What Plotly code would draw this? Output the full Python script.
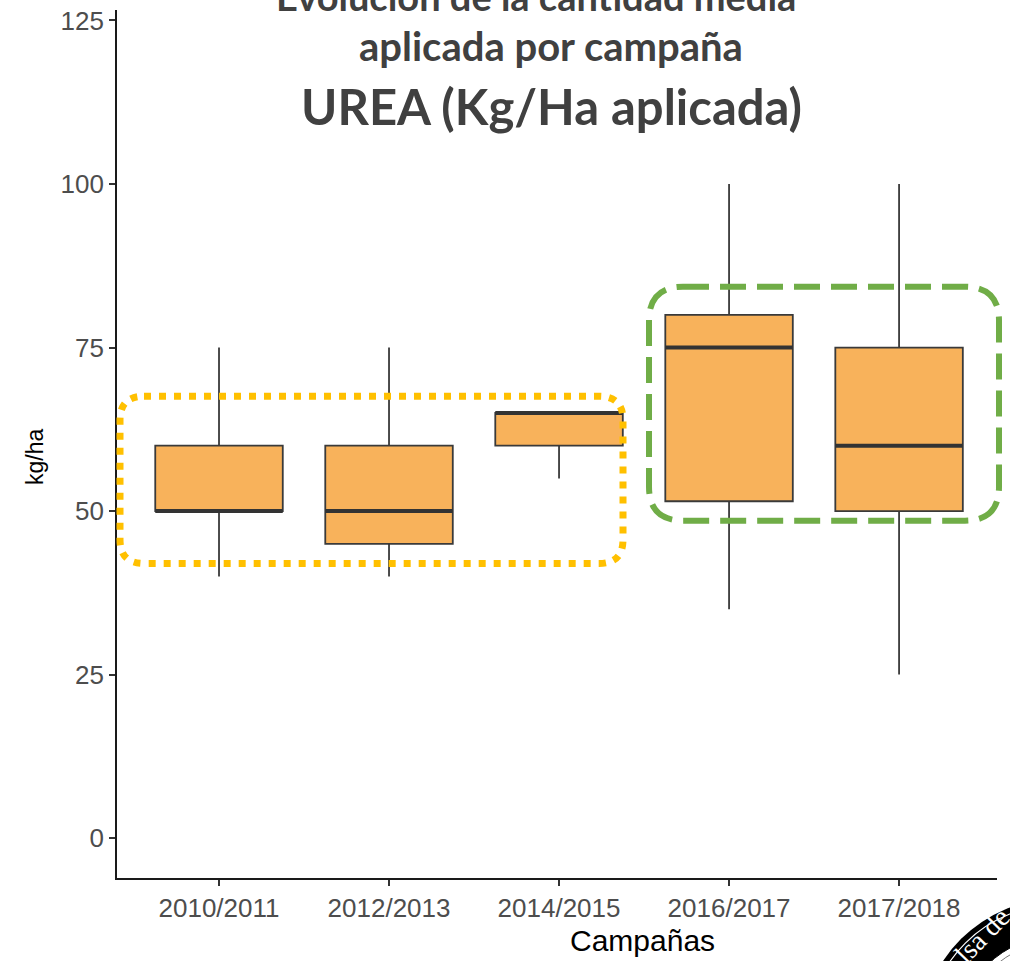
import plotly.graph_objects as go

# data (kg/ha per campaign)
campanas = ['2010/2011', '2012/2013', '2014/2015', '2016/2017', '2017/2018']
minimo = [40, 40, 55, 35, 25]
q1 = [50, 45, 60, 51.5, 50]
mediana = [50, 50, 65, 75, 60]
q3 = [60, 60, 65, 80, 75]
maximo = [75, 75, 65, 100, 100]
y_ticks = [0, 25, 50, 75, 100, 125]

W_FIG, H_FIG = 1010, 961
L, R, T, B = 117, 997, 6, 878  # plot area in pixels


def px(x):
    return (x - L) / (R - L)


def py(y):
    return (B - y) / (B - T)


def rounded_rect(x0, y0, x1, y1, r):
    # x/y in pixels, returns a path in paper coords
    pts = [
        ('M', px(x0 + r), py(y0)),
        ('L', px(x1 - r), py(y0)),
        ('Q', px(x1), py(y0), px(x1), py(y0 + r)),
        ('L', px(x1), py(y1 - r)),
        ('Q', px(x1), py(y1), px(x1 - r), py(y1)),
        ('L', px(x0 + r), py(y1)),
        ('Q', px(x0), py(y1), px(x0), py(y1 - r)),
        ('L', px(x0), py(y0 + r)),
        ('Q', px(x0), py(y0), px(x0 + r), py(y0)),
    ]
    s = ''
    for p in pts:
        s += p[0] + ' ' + ' '.join('%.5f' % v for v in p[1:]) + ' '
    return s + 'Z'


pos = list(range(len(campanas)))
box_w = 0.75

fig = go.Figure()
fig.add_trace(go.Box(
    x=pos, q1=q1, median=mediana, q3=q3,
    lowerfence=minimo, upperfence=maximo,
    width=box_w, whiskerwidth=0,
    fillcolor='#F8B25B', line=dict(color='#3a3a3a', width=1.8),
    boxpoints=False, hoverinfo='skip', showlegend=False,
))

# thicker median line, like ggplot
mx, my = [], []
for p, m in zip(pos, mediana):
    mx += [p - box_w / 2, p + box_w / 2, None]
    my += [m, m, None]
fig.add_trace(go.Scatter(x=mx, y=my, mode='lines',
                         line=dict(color='#333333', width=4),
                         hoverinfo='skip', showlegend=False))

tick_font = dict(family='Liberation Sans, Arial', size=26, color='#4D4D4D')

fig.update_xaxes(
    range=[-0.6, 4.576], tickvals=pos, ticktext=campanas,
    showline=True, linecolor='#1a1a1a', linewidth=1.6,
    ticks='outside', ticklen=6, tickwidth=1.5, tickcolor='#333333',
    tickfont=tick_font, showgrid=False, zeroline=False, fixedrange=True,
)
fig.update_yaxes(
    range=[-6.09, 126.6], tickvals=y_ticks,
    showline=True, linecolor='#1a1a1a', linewidth=1.6,
    ticks='outside', ticklen=6, tickwidth=1.5, tickcolor='#333333',
    tickfont=tick_font, showgrid=False, zeroline=False, fixedrange=True,
)

shapes = [
    dict(type='path', xref='paper', yref='paper',
         path=rounded_rect(120, 394, 623, 562, 24),
         line=dict(color='#FFC000', width=7, dash='7px,8px')),
    dict(type='path', xref='paper', yref='paper',
         path=rounded_rect(649, 284, 999, 519, 34),
         line=dict(color='#70AD47', width=6, dash='26px,11px')),
]

# seal in the bottom right corner (partially visible)
cx, cy = 1058, 1036
for r, fill, lc, lw in [(137, 'black', 'black', 0), (131, 'rgba(0,0,0,0)', 'white', 1.2),
                        (100, 'white', 'black', 1), (94, 'rgba(0,0,0,0)', '#777777', 1)]:
    shapes.append(dict(type='circle', xref='paper', yref='paper',
                       x0=px(cx - r), x1=px(cx + r), y0=py(cy + r), y1=py(cy - r),
                       fillcolor=fill, line=dict(color=lc, width=lw), layer='above'))

title_font = 'Lato, Open Sans, sans-serif'
annotations = [
    dict(text='<b>Evolución de la cantidad media</b>', x=px(536), y=py(17),
         xref='paper', yref='paper', xanchor='center', yanchor='bottom', showarrow=False,
         font=dict(family=title_font, size=38, color='#404040')),
    dict(text='<b>aplicada por campaña</b>', x=px(551), y=py(42),
         xref='paper', yref='paper', xanchor='center', yanchor='middle', showarrow=False,
         font=dict(family=title_font, size=40, color='#404040')),
    dict(text='<b>UREA (Kg/Ha aplicada)</b>', x=px(551), y=py(102),
         xref='paper', yref='paper', xanchor='center', yanchor='middle', showarrow=False,
         font=dict(family=title_font, size=49, color='#404040')),
    dict(text='Campañas', x=px(642), y=py(941),
         xref='paper', yref='paper', xanchor='center', yanchor='middle', showarrow=False,
         font=dict(family='Liberation Sans, Arial', size=30, color='black')),
    dict(text='kg/ha', x=px(35), y=py(455), textangle=-90,
         xref='paper', yref='paper', xanchor='center', yanchor='middle', showarrow=False,
         font=dict(family='Liberation Sans, Arial', size=23, color='black')),
    dict(text='lsa de', x=px(982), y=py(936), textangle=-46,
         xref='paper', yref='paper', xanchor='center', yanchor='middle', showarrow=False,
         font=dict(family='Liberation Serif, serif', size=28, color='white')),
]

fig.update_layout(
    width=W_FIG, height=H_FIG,
    margin=dict(l=L, r=W_FIG - R, t=T, b=H_FIG - B, pad=0),
    paper_bgcolor='white', plot_bgcolor='white',
    shapes=shapes, annotations=annotations,
)

# the page body has an 8px default margin; remove it so the figure fills the window
fig.write_html("out.html", config={'displayModeBar': False},
               post_script="document.body.style.margin='0';")
